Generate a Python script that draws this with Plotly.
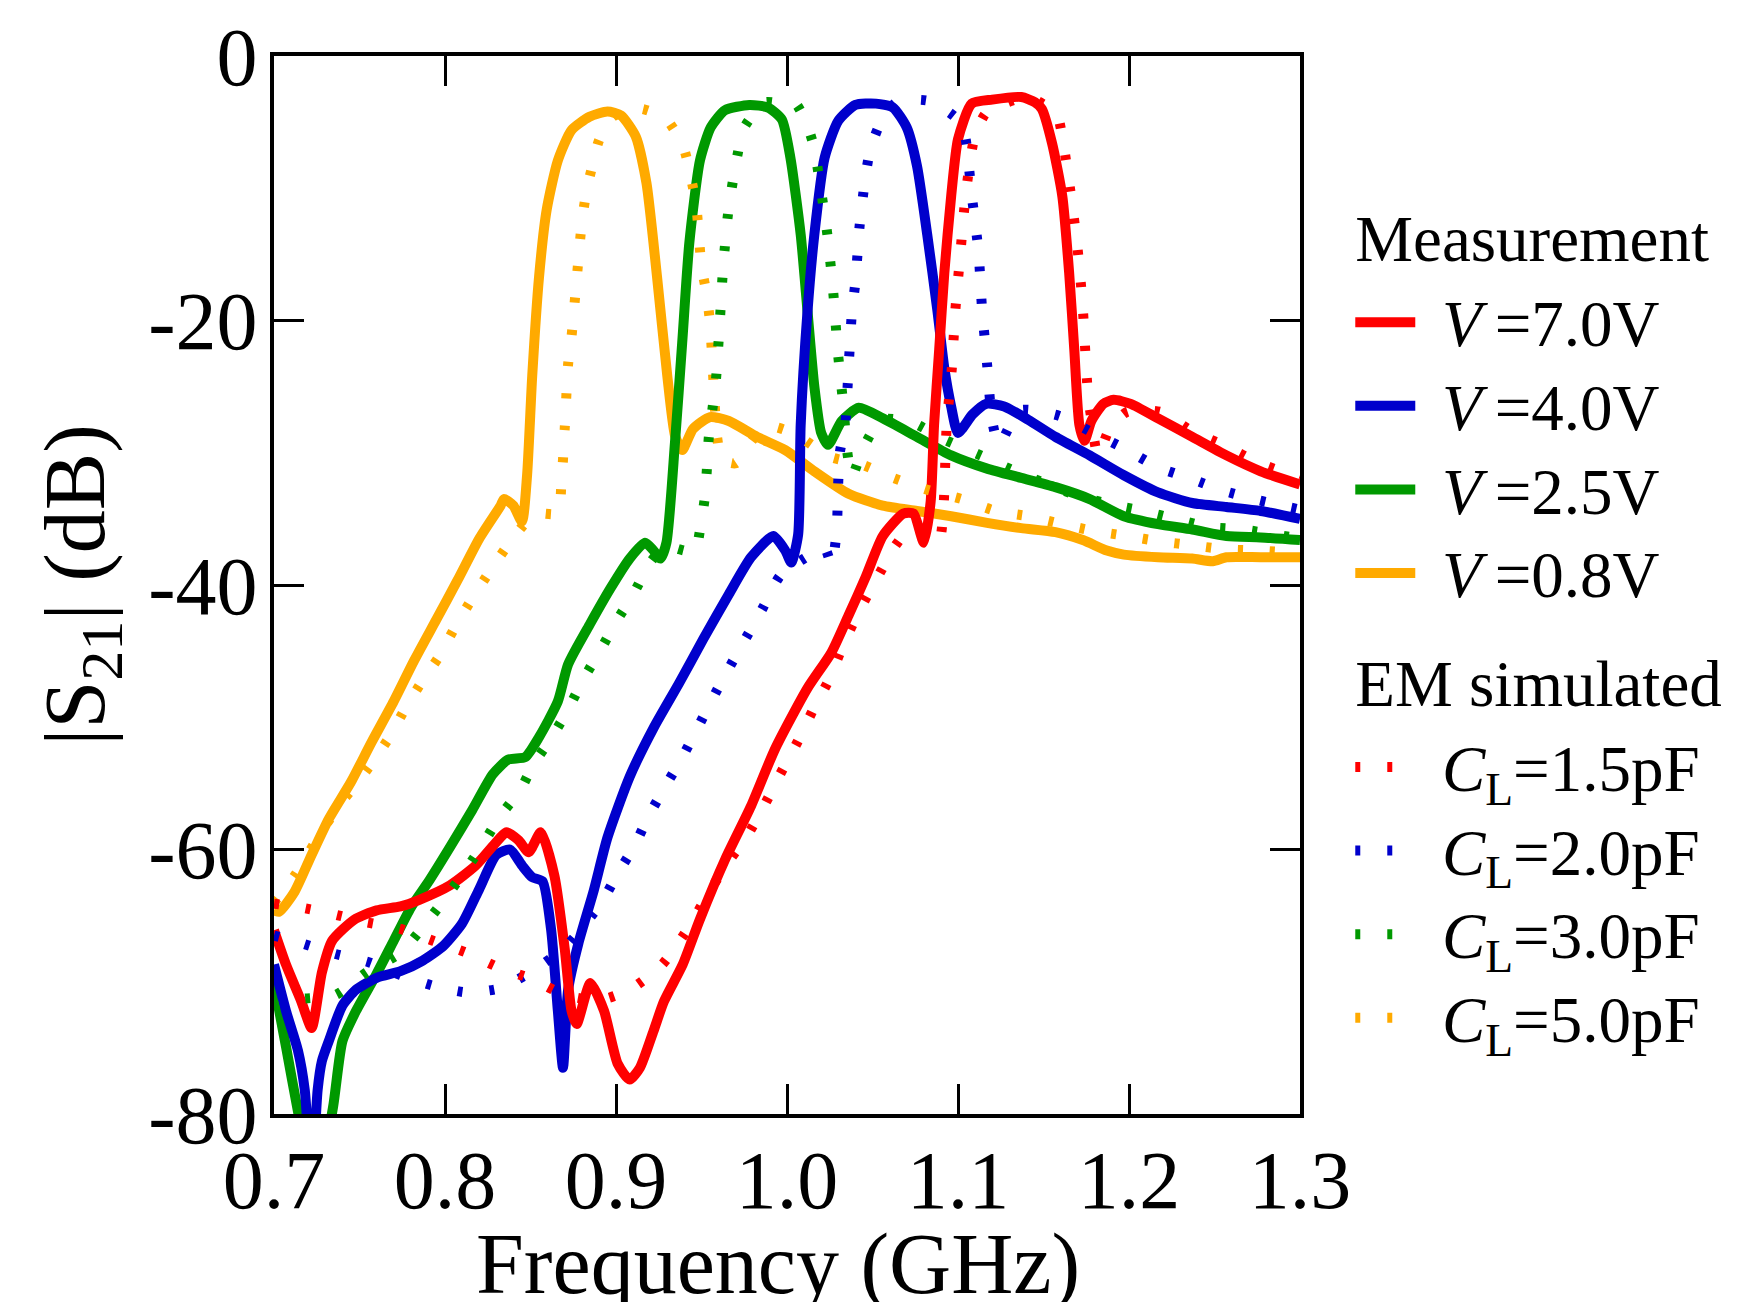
import plotly.graph_objects as go

# measured |S21| (dB) for each bias voltage
f_meas_70 = [0.700, 0.707, 0.716, 0.722, 0.728, 0.734, 0.747, 0.760, 0.774, 0.785, 0.803, 0.818, 0.833, 0.836,
             0.843, 0.849, 0.856, 0.864, 0.870, 0.874, 0.877, 0.885, 0.893, 0.901, 0.908, 0.914, 0.922, 0.928,
             0.939, 0.949, 0.964, 0.979, 0.993, 1.012, 1.026, 1.036, 1.046, 1.056, 1.068, 1.074, 1.080, 1.084,
             1.086, 1.089, 1.092, 1.096, 1.100, 1.108, 1.120, 1.137, 1.145, 1.149, 1.155, 1.161, 1.165, 1.168,
             1.171, 1.174, 1.178, 1.185, 1.191, 1.201, 1.217, 1.237, 1.257, 1.277, 1.300]
s21_meas_70 = [-66.1, -68.7, -71.5, -73.5, -69.3, -66.9, -65.3, -64.6, -64.3, -63.8, -62.7, -61.2, -59.0, -58.7,
               -59.3, -60.2, -58.7, -62.0, -67.5, -72.2, -73.2, -70.1, -72.2, -76.2, -77.4, -76.5, -73.7, -71.5,
               -68.7, -65.3, -60.7, -56.7, -52.4, -47.8, -45.1, -42.3, -39.4, -36.3, -34.6, -34.6, -36.8, -33.7,
               -27.9, -22.2, -16.4, -10.6, -6.3, -3.6, -3.3, -3.1, -3.5, -4.0, -6.6, -10.6, -16.4, -22.2,
               -27.9, -29.1, -27.6, -26.3, -26.0, -26.3, -27.4, -28.8, -30.2, -31.4, -32.4]

f_meas_40 = [0.700, 0.707, 0.714, 0.718, 0.722, 0.7255, 0.728, 0.732, 0.740, 0.748, 0.760, 0.774, 0.787, 0.799,
             0.810, 0.820, 0.830, 0.838, 0.845, 0.851, 0.857, 0.862, 0.866, 0.869, 0.872, 0.878, 0.887, 0.895,
             0.908, 0.922, 0.937, 0.951, 0.966, 0.979, 0.992, 0.999, 1.0025, 1.0065, 1.008, 1.012, 1.016, 1.022,
             1.030, 1.040, 1.052, 1.062, 1.070, 1.076, 1.082, 1.088, 1.092, 1.096, 1.100, 1.1085, 1.1165, 1.127,
             1.141, 1.157, 1.177, 1.197, 1.217, 1.237, 1.257, 1.277, 1.300]
s21_meas_40 = [-68.7, -72.2, -75.2, -78.2, -85.0, -78.2, -76.0, -74.5, -71.8, -70.6, -69.7, -69.2, -68.4, -67.3,
               -65.6, -63.0, -60.4, -60.0, -61.2, -62.1, -62.4, -66.0, -72.2, -76.5, -70.6, -67.1, -63.1, -59.1,
               -54.5, -50.8, -47.4, -44.1, -40.7, -37.9, -36.3, -37.4, -38.3, -36.2, -27.9, -19.3, -13.5, -7.7,
               -4.9, -3.7, -3.6, -3.9, -5.4, -8.3, -13.5, -19.3, -23.6, -26.5, -28.5, -27.1, -26.3, -26.5,
               -27.5, -28.8, -30.2, -31.7, -33.0, -33.8, -34.1, -34.4, -35.0]

f_meas_25 = [0.700, 0.707, 0.714, 0.724, 0.7345, 0.740, 0.748, 0.760, 0.770, 0.780, 0.791, 0.803, 0.816, 0.828,
             0.837, 0.847, 0.855, 0.866, 0.872, 0.885, 0.897, 0.908, 0.917, 0.922, 0.926, 0.9295, 0.9345, 0.9387,
             0.9429, 0.9491, 0.9554, 0.9637, 0.978, 0.989, 0.997, 1.002, 1.008, 1.012, 1.016, 1.020, 1.024, 1.032,
             1.042, 1.056, 1.076, 1.096, 1.117, 1.137, 1.157, 1.177, 1.197, 1.217, 1.237, 1.257, 1.277, 1.300]
s21_meas_25 = [-70.1, -74.9, -79.8, -86.0, -79.5, -74.5, -72.2, -69.4, -66.9, -64.4, -62.3, -59.8, -57.0, -54.3,
               -53.2, -53.0, -51.5, -48.8, -46.0, -42.9, -40.2, -38.0, -36.8, -37.4, -38.0, -36.8, -29.2, -21.7,
               -14.1, -7.9, -5.4, -4.1, -3.7, -3.9, -4.8, -7.7, -13.5, -19.3, -25.0, -28.5, -29.4, -27.6,
               -26.6, -27.4, -28.8, -30.2, -31.2, -31.9, -32.6, -33.5, -34.8, -35.4, -35.8, -36.3, -36.4, -36.6]

f_meas_08 = [0.700, 0.703, 0.712, 0.722, 0.732, 0.745, 0.757, 0.770, 0.782, 0.795, 0.8075, 0.820, 0.8325, 0.8345,
             0.840, 0.845, 0.848, 0.851, 0.855, 0.8595, 0.866, 0.874, 0.8845, 0.895, 0.903, 0.9116, 0.9178, 0.924,
             0.930, 0.9345, 0.9387, 0.945, 0.955, 0.966, 0.9825, 0.999, 1.016, 1.036, 1.056, 1.076, 1.096, 1.117,
             1.137, 1.157, 1.173, 1.187, 1.197, 1.217, 1.237, 1.249, 1.257, 1.277, 1.300]
s21_meas_08 = [-64.6, -64.7, -63.2, -60.4, -57.7, -54.9, -51.9, -48.8, -45.7, -42.6, -39.6, -36.5, -34.0, -33.5,
               -34.0, -35.2, -31.7, -24.2, -16.7, -11.6, -7.9, -5.6, -4.6, -4.2, -4.5, -6.1, -9.6, -16.7,
               -24.2, -28.7, -29.8, -28.2, -27.3, -27.6, -28.8, -29.8, -31.4, -33.1, -34.0, -34.4, -34.8, -35.3,
               -35.7, -36.0, -36.6, -37.4, -37.7, -37.9, -38.0, -38.2, -37.9, -37.9, -37.9]

# EM simulated |S21| (dB) for each load capacitance
f_sim_15 = [0.700, 0.7165, 0.735, 0.754, 0.774, 0.793, 0.8125, 0.831, 0.851, 0.870, 0.890, 0.908, 0.927, 0.944,
            0.954, 0.967, 0.977, 0.987, 0.996, 1.006, 1.015, 1.024, 1.033, 1.042, 1.053, 1.063, 1.073, 1.082,
            1.089, 1.0914, 1.0934, 1.0964, 1.0984, 1.1014, 1.1044, 1.1094, 1.1165, 1.1406, 1.1577, 1.1607, 1.1657,
            1.1698, 1.1728, 1.1758, 1.1778, 1.1818, 1.1889, 1.199, 1.2181, 1.2372, 1.2563, 1.2764, 1.300]
s21_sim_15 = [-64.1, -64.4, -64.9, -65.5, -66.0, -66.9, -67.8, -68.9, -69.8, -71.0, -71.4, -70.6, -68.7, -65.6,
              -63.3, -60.7, -58.9, -56.6, -54.3, -51.9, -49.5, -47.3, -44.5, -42.0, -39.4, -37.1, -35.6, -36.3,
              -36.6, -34.4, -27.9, -23.6, -19.3, -14.9, -10.6, -6.3, -4.3, -3.1, -4.4, -5.9, -10.2,
              -14.4, -18.7, -25.2, -27.3, -30.2, -28.1, -26.9, -26.9, -28.4, -29.5, -30.8, -31.9]

f_sim_20 = [0.700, 0.7165, 0.736, 0.755, 0.774, 0.793, 0.8125, 0.832, 0.851, 0.871, 0.892, 0.901, 0.9105, 0.919,
            0.928, 0.938, 0.947, 0.956, 0.966, 0.976, 0.986, 0.996, 1.010, 1.022, 1.026, 1.029, 1.030, 1.031,
            1.034, 1.036, 1.038, 1.040, 1.0425, 1.046, 1.049, 1.056, 1.065, 1.083, 1.099, 1.104, 1.108, 1.112,
            1.114, 1.117, 1.120, 1.124, 1.136, 1.159, 1.179, 1.199, 1.217, 1.237, 1.256, 1.276, 1.300]
s21_sim_20 = [-66.5, -67.1, -67.9, -68.5, -69.5, -70.3, -70.8, -70.5, -69.2, -67.3, -63.9, -61.8, -59.8, -57.5,
              -55.4, -53.2, -51.0, -48.7, -46.3, -44.0, -41.7, -39.3, -38.0, -37.2, -38.5, -36.0, -32.1, -29.9,
              -27.9, -23.6, -19.3, -17.1, -12.8, -9.0, -6.9, -4.7, -3.4, -3.4, -4.7, -6.0, -10.5, -14.8,
              -19.0, -23.3, -27.6, -29.4, -26.8, -27.2, -28.5, -29.8, -31.1, -32.0, -32.9, -33.6, -34.3]

f_sim_30 = [0.700, 0.7165, 0.736, 0.754, 0.774, 0.793, 0.8135, 0.824, 0.832, 0.844, 0.852, 0.863, 0.872, 0.881,
            0.891, 0.900, 0.9105, 0.920, 0.929, 0.940, 0.946, 0.950, 0.9522, 0.9533, 0.9543, 0.9564, 0.9585,
            0.9606, 0.9627, 0.9658, 0.971, 0.975, 0.987, 0.997, 1.005, 1.012, 1.016, 1.019, 1.0236, 1.027,
            1.0296, 1.033, 1.035, 1.038, 1.044, 1.055, 1.073, 1.092, 1.1115, 1.1317, 1.1507, 1.1688, 1.189,
            1.2081, 1.2272, 1.2463, 1.2664, 1.300]
s21_sim_30 = [-71.8, -71.3, -71.0, -69.3, -67.8, -64.9, -61.3, -59.2, -57.5, -55.5, -53.5, -51.4, -49.4, -47.1,
              -44.9, -42.8, -40.6, -38.3, -37.1, -37.4, -37.5, -35.1, -33.1, -30.9, -28.8, -26.7, -24.4,
              -20.3, -15.9, -11.6, -7.5, -5.4, -3.5, -3.6, -3.6, -5.3, -7.0, -9.4, -13.5, -17.8,
              -22.2, -26.5, -29.7, -31.8, -29.8, -27.5, -27.7, -29.0, -30.1, -31.3, -32.3, -33.2, -33.9,
              -34.4, -35.0, -35.6, -35.8, -36.5]

f_sim_50 = [0.700, 0.712, 0.728, 0.739, 0.749, 0.757, 0.768, 0.776, 0.786, 0.796, 0.805, 0.815, 0.825, 0.835,
            0.845, 0.853, 0.866, 0.868, 0.870, 0.872, 0.874, 0.877, 0.880, 0.883, 0.886, 0.890, 0.898, 0.908,
            0.915, 0.929, 0.935, 0.940, 0.944, 0.947, 0.950, 0.953, 0.955, 0.957, 0.959, 0.962, 0.970, 0.980,
            0.990, 1.005, 1.025, 1.044, 1.062, 1.082, 1.102, 1.122, 1.141, 1.161, 1.179, 1.199, 1.218, 1.237,
            1.256, 1.276, 1.300]
s21_sim_50 = [-64.0, -62.0, -58.6, -56.5, -54.9, -53.5, -51.4, -49.5, -47.4, -45.5, -43.4, -41.2, -39.2, -37.3,
              -35.6, -34.6, -34.6, -32.5, -28.2, -23.3, -21.2, -16.9, -12.6, -10.0, -8.4, -6.4, -4.6, -4.1,
              -4.0, -4.7, -5.8, -7.1, -9.3, -11.4, -15.9, -18.0, -20.2, -24.6, -28.7, -30.5, -30.8, -29.0,
              -28.0, -28.6, -30.3, -30.9, -31.9, -32.8, -33.5, -34.4, -34.8, -35.4, -35.9, -36.3, -36.7, -37.0,
              -37.3, -37.4, -37.6]

x_ticks = [0.7, 0.8, 0.9, 1.0, 1.1, 1.2, 1.3]
x_labels = ["0.7", "0.8", "0.9", "1.0", "1.1", "1.2", "1.3"]
y_ticks = [0, -20, -40, -60, -80]
y_labels = ["0", "-20", "-40", "-60", "-80"]

RED = "#ff0000"
BLUE = "#0000cc"
GREEN = "#009900"
ORANGE = "#ffaa00"
FONT = "Liberation Serif"


def leg(txt):
    # bigger glyphs than the legend row pitch allows
    return "<span style='font-size:65px'>\u00a0\u200a" + txt + "</span>"


meas = [
    (f_meas_08, s21_meas_08, ORANGE, "<i>V</i>\u2009=0.8V", 4),
    (f_meas_25, s21_meas_25, GREEN, "<i>V</i>\u2009=2.5V", 3),
    (f_meas_40, s21_meas_40, BLUE, "<i>V</i>\u2009=4.0V", 2),
    (f_meas_70, s21_meas_70, RED, "<i>V</i>\u2009=7.0V", 1),
]
sim = [
    (f_sim_50, s21_sim_50, ORANGE, "<i>C</i><sub>L</sub>=5.0pF", 8),
    (f_sim_30, s21_sim_30, GREEN, "<i>C</i><sub>L</sub>=3.0pF", 7),
    (f_sim_20, s21_sim_20, BLUE, "<i>C</i><sub>L</sub>=2.0pF", 6),
    (f_sim_15, s21_sim_15, RED, "<i>C</i><sub>L</sub>=1.5pF", 5),
]

fig = go.Figure()
for fx, fy, col, name, rank in meas:
    fig.add_trace(go.Scatter(
        x=fx, y=fy, mode="lines", name=leg(name),
        line=dict(color=col, width=10, shape="spline", smoothing=0.6),
        legendgroup="meas", legendrank=rank,
        legendgrouptitle=dict(text="<span style='font-size:65px'>Measurement</span>"),
    ))
for fx, fy, col, name, rank in sim:
    fig.add_trace(go.Scatter(
        x=fx, y=fy, mode="lines", name=leg(name),
        line=dict(color=col, width=10, dash="5px,27px", shape="spline", smoothing=0.6),
        legendgroup="sim", legendrank=rank,
        legendgrouptitle=dict(text="<span style='font-size:65px'>EM simulated</span>"),
    ))

axis_common = dict(
    showline=True, linewidth=4, linecolor="black", mirror="ticks",
    ticks="inside", ticklen=30, tickwidth=3, tickcolor="black",
    showgrid=False, zeroline=False,
    tickfont=dict(family=FONT, size=82, color="black"),
)

fig.update_xaxes(
    range=[0.7, 1.3], tickvals=x_ticks, ticktext=x_labels, ticklabelstandoff=-8,
    **axis_common,
)
fig.update_yaxes(
    range=[-80, 0], tickvals=y_ticks, ticktext=y_labels, ticklabelstandoff=-4,
    title=dict(text="|S<sub>21</sub>| (dB)", font=dict(family=FONT, size=86, color="black"), standoff=16),
    **axis_common,
)

# x title placed by hand so it sits a bit lower, as in the source figure
fig.add_annotation(
    text="Frequency (GHz)", xref="paper", yref="paper", x=0.4915, y=-0.142,
    xanchor="center", yanchor="middle", showarrow=False,
    font=dict(family=FONT, size=86, color="black"),
)

# the page body adds 8px, so the figure is 8px smaller each way
fig.update_layout(
    width=1738, height=1294,
    margin=dict(l=266, r=446, t=48, b=188, autoexpand=False),
    plot_bgcolor="white", paper_bgcolor="white",
    font=dict(family=FONT, color="black"),
    legend=dict(
        x=1.049, y=0.879, xanchor="left", yanchor="top",
        font=dict(family=FONT, size=62, color="black"),
        grouptitlefont=dict(family=FONT, size=68, color="black"),
        tracegroupgap=19, itemwidth=60,
        bgcolor="rgba(0,0,0,0)",
    ),
)

fig.write_html("out.html")
